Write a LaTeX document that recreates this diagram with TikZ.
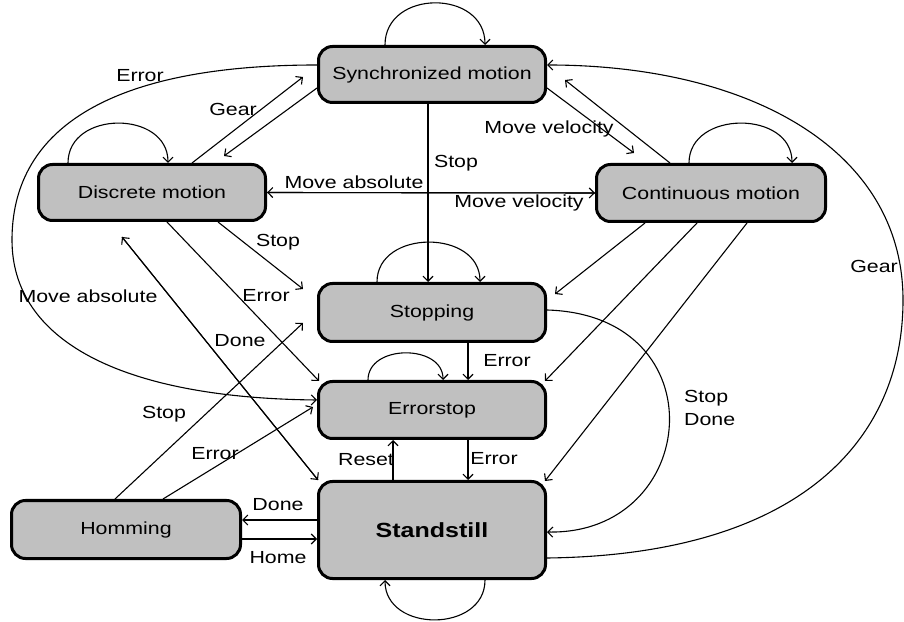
\documentclass[tikz,border=0pt]{standalone}
\usepackage{fontspec}
\setmainfont{Liberation Sans}[FakeStretch=1.22]
\usetikzlibrary{arrows.meta,calc}
\definecolor{boxgray}{RGB}{192,192,192}
\begin{document}
\begin{tikzpicture}[x=1pt,y=1pt,
  font=\fontsize{17.5}{23}\selectfont,
  >={Straight Barb[length=5pt,width=10pt]},
  state/.style={draw=black,line width=3pt,fill=boxgray,rounded corners=14pt,inner sep=0pt,minimum width=227pt,minimum height=56pt},
  edge/.style={line width=1.1pt,->},
  lab/.style={inner sep=0pt}]
\useasboundingbox (0,0) rectangle (904,621);

% states
\node[state] (sync) at (432,546.5) {Synchronized motion};
\node[state] (discrete) at (152,428.5) {Discrete motion};
\node[state,minimum width=229pt,minimum height=57pt] (continuous) at (711,428) {Continuous motion};
\node[state,minimum height=58pt] (stopping) at (432,308.5) {Stopping};
\node[state,minimum height=57pt] (errorstop) at (432,211) {Errorstop};
\node[state,minimum height=97pt,font=\fontsize{20.5}{24}\selectfont\bfseries] (standstill) at (432,91) {Standstill};
\node[state,minimum width=229pt,minimum height=58pt] (homming) at (126,91.5) {Homming};

% self loops
\draw[edge] ([xshift=-47pt]sync.north) .. controls +(0,56) and +(0,56) .. ([xshift=53pt]sync.north);
\draw[edge] ([xshift=-84pt]discrete.north) .. controls +(0,53) and +(0,53) .. ([xshift=16pt]discrete.north);
\draw[edge] ([xshift=-22pt]continuous.north) .. controls +(0,53) and +(0,53) .. ([xshift=81pt]continuous.north);
\draw[edge] ([xshift=-55pt]stopping.north) .. controls +(0,53) and +(0,53) .. ([xshift=48pt]stopping.north);
\draw[edge] ([xshift=-64pt]errorstop.north) .. controls +(0,36) and +(0,36) .. ([xshift=11pt]errorstop.north);
\draw[edge] ([xshift=53pt]standstill.south) .. controls +(0,-53) and +(0,-53) .. ([xshift=-47pt]standstill.south);

% discrete <-> sync
\draw[edge] ([xshift=40pt]discrete.north) -- ([xshift=-14pt,yshift=-2.5pt]sync.west);
\node[lab] (lgear1) at (233,512) {Gear};
\draw[edge] ([yshift=-13.5pt]sync.west) -- ([xshift=72pt,yshift=7pt]discrete.north);

% sync <-> continuous
\draw[edge] ([yshift=-13.5pt]sync.east) -- ([xshift=-77pt,yshift=10pt]continuous.north);
\node[lab] (lmv1) at (549,492) {Move velocity};
\draw[edge] ([xshift=-41pt]continuous.north) -- ([xshift=18pt,yshift=-5.5pt]sync.east);

% sync -> stopping
\draw[edge] ([xshift=-4pt]sync.south) -- ([xshift=-4pt]stopping.north);
\node[lab] (lstop1) at (456,458) {Stop};

% discrete <-> continuous
\draw[edge] (discrete.east) -- (continuous.west);
\draw[edge] (continuous.west) -- (discrete.east);
\node[lab] (lma1) at (354,439) {Move absolute};
\node[lab] (lmv2) at (519,418) {Move velocity};

% discrete -> stopping, errorstop
\draw[edge] ([xshift=66pt]discrete.south) -- ([xshift=-14pt,yshift=23.5pt]stopping.west);
\node[lab] (lstop2) at (278,379) {Stop};
\draw[edge] ([xshift=15pt]discrete.south) -- ([xshift=2pt,yshift=-1pt]errorstop.north west);
\node[lab] (lerr1) at (266,325) {Error};

% discrete <-> standstill
\draw[edge] ([xshift=1pt]standstill.north west) -- ([xshift=-30pt,yshift=-15pt]discrete.south);
\draw[edge] ([xshift=-30pt,yshift=-15pt]discrete.south) -- ([xshift=1pt]standstill.north west);
\node[lab] (lma2) at (88,325) {Move absolute};
\node[lab] (ldone1) at (240,280) {Done};

% big error curve sync -> errorstop
\coordinate (errbend) at (12,381);
\draw[edge] ([yshift=9.5pt]sync.west) .. controls (100,556) and (12,486) .. (errbend)
  .. controls (12,281) and (120,223) .. ([yshift=10pt]errorstop.west);
\node[lab] (lerr2) at (140,545) {Error};

% big gear curve standstill -> sync
\coordinate (gearbend) at (903,321);
\draw[edge] ([yshift=-28pt]standstill.east) .. controls (800,66) and (903,181) .. (gearbend)
  .. controls (903,471) and (750,556) .. ([yshift=9.5pt]sync.east);
\node[lab] (lgear2) at (874,355) {Gear};

% stopping -> standstill
\draw[edge] ([yshift=2.5pt]stopping.east) .. controls (720,306) and (700,86) .. ([yshift=-2pt]standstill.east);
\node[lab,anchor=west,align=left] (lsd) at (684,213) {Stop\\Done};

% stopping -> errorstop -> standstill
\draw[edge] ([xshift=36pt]stopping.south) -- ([xshift=36pt]errorstop.north);
\node[lab] (lerr3) at (507,260) {Error};
\draw[edge] ([xshift=36pt]errorstop.south) -- ([xshift=36pt]standstill.north);
\node[lab] (lerr4) at (494,162) {Error};
\draw[edge] ([xshift=-39pt]standstill.north) -- ([xshift=-39pt]errorstop.south);
\node[lab] (lreset) at (366,161) {Reset};

% continuous -> stopping, errorstop, standstill
\draw[edge] ([xshift=-66pt]continuous.south) -- ([xshift=8pt,yshift=18.5pt]stopping.east);
\draw[edge] ([xshift=-14pt]continuous.south) -- ([xshift=-2pt,yshift=-1pt]errorstop.north east);
\draw[edge] ([xshift=36pt]continuous.south) -- ([xshift=-2pt,yshift=-1pt]standstill.north east);

% homming
\draw[edge] ([xshift=-11pt]homming.north) -- ([xshift=-14pt,yshift=-10.5pt]stopping.west);
\node[lab] (lstop3) at (164,207) {Stop};
\draw[edge] ([xshift=37pt]homming.north) -- ([xshift=-4pt,yshift=3pt]errorstop.west);
\node[lab] (lerr5) at (215,167) {Error};
\draw[edge] ([yshift=10pt]standstill.west) -- ([yshift=9.5pt]homming.east);
\node[lab] (ldone2) at (278,116) {Done};
\draw[edge] ([yshift=-9.5pt]homming.east) -- ([yshift=-9pt]standstill.west);
\node[lab] (lhome) at (278,63) {Home};
\end{tikzpicture}
\end{document}
